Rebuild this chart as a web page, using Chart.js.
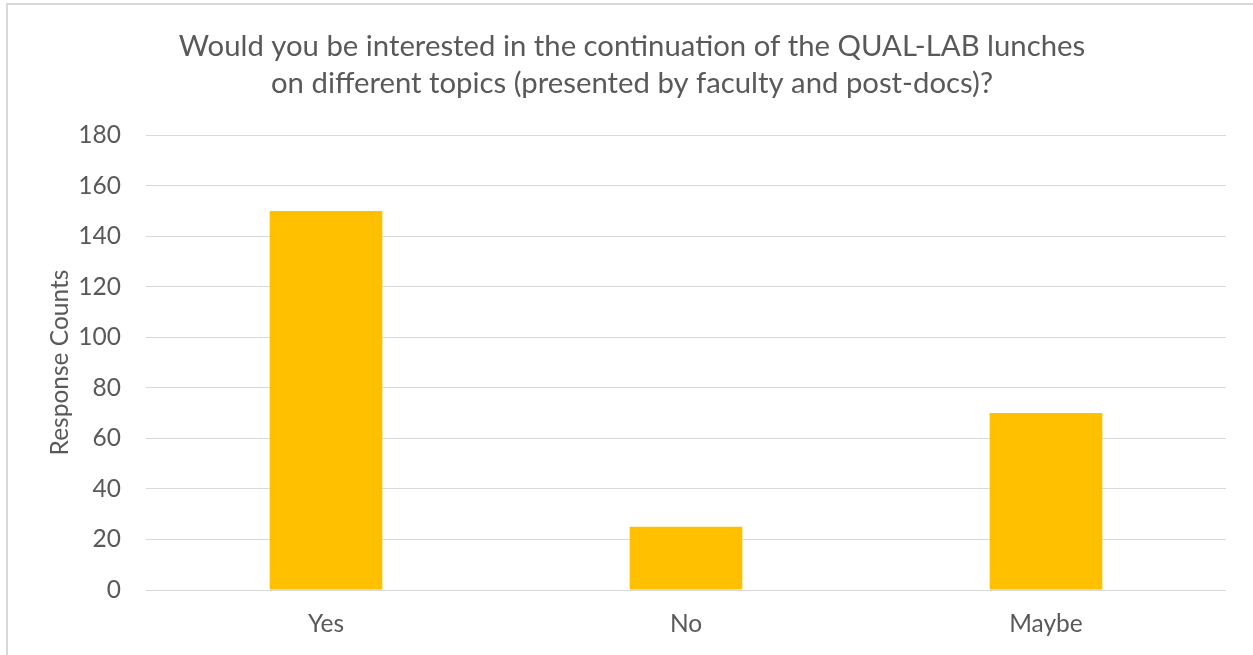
<!DOCTYPE html>
<html>
<head>
<meta charset="utf-8">
<title>QUAL-LAB lunches</title>
<script src="https://cdn.jsdelivr.net/npm/chart.js@4.4.0/dist/chart.umd.min.js"></script>
<style>
  html, body { margin: 0; padding: 0; background: #fff; overflow: hidden; }
  #frame {
    position: absolute; left: 6px; top: 3px;
    width: 1300px; height: 700px;
    border: 2px solid #d9d9d9;
  }
  #wrap { position: absolute; left: 0; top: 0; width: 1253px; height: 655px; }
</style>
</head>
<body>
<div id="frame"></div>
<div id="wrap"><canvas id="chart"></canvas></div>
<script>
// survey answers
const categories = ['Yes', 'No', 'Maybe'];
const responseCounts = [150, 25, 70];
const titleLines = [
  'Would you be interested in the continuation of the QUAL-LAB lunches',
  'on different topics (presented by faculty and post-docs)?'
];
const yAxisLabel = 'Response Counts';

const TEXT = '#595959';
const GRID = '#d9d9d9';
const FONT = 'Lato, "Open Sans", sans-serif';

const ctx = document.getElementById('chart').getContext('2d');
new Chart(ctx, {
  type: 'bar',
  data: {
    labels: categories,
    datasets: [{
      label: yAxisLabel,
      data: responseCounts,
      backgroundColor: '#FFC000',
      borderWidth: 0,
      barPercentage: 0.313,
      categoryPercentage: 1
    }]
  },
  options: {
    responsive: true,
    maintainAspectRatio: false,
    animation: false,
    // left padding keeps the title centred on the frame, not the plot
    layout: { padding: { left: 38, right: 27, top: 0, bottom: 0 } },
    plugins: {
      legend: { display: false },
      tooltip: { enabled: false },
      title: {
        display: true,
        text: titleLines,
        color: TEXT,
        font: { family: FONT, size: 29.3, weight: 'normal', lineHeight: 1.23 },
        padding: { top: 29, bottom: 34 }
      }
    },
    scales: {
      x: {
        grid: { display: false, drawTicks: false },
        border: { display: false },
        ticks: {
          color: TEXT,
          padding: 19,
          font: { family: FONT, size: 24.5 }
        },
        afterFit: (scale) => { scale.height = 65; }
      },
      y: {
        min: 0,
        max: 180,
        grid: { color: GRID, lineWidth: 1, drawTicks: false },
        border: { display: false },
        ticks: {
          stepSize: 20,
          color: TEXT,
          padding: 25,
          font: { family: FONT, size: 24.5 }
        },
        title: {
          display: true,
          text: yAxisLabel,
          color: TEXT,
          font: { family: FONT, size: 24.5 },
          padding: { top: 7, bottom: 0 }
        },
        afterFit: (scale) => { scale.width = 108; }
      }
    }
  }
});
</script>
</body>
</html>
